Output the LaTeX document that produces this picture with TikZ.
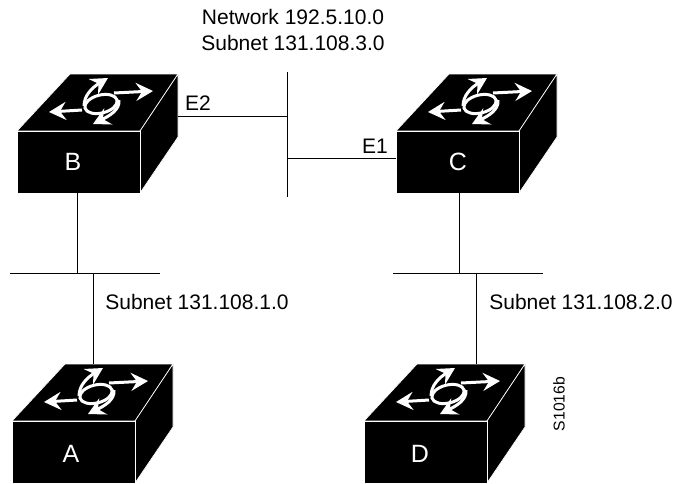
\documentclass[tikz,border=0pt]{standalone}
\usepackage{fontspec}
\setmainfont{Liberation Sans}
\usetikzlibrary{arrows.meta}
\tikzset{
  lbl/.style={font=\fontsize{21}{26}\selectfont, align=center, inner sep=0},
  boxlbl/.style={font=\fontsize{25}{25}\selectfont, text=white, inner sep=0},
  net/.style={draw, line width=1pt},
  face/.style={fill=black, draw=white, line width=0.7pt},
  icon/.style={draw=white, line width=3pt},
  iconarrow/.style={icon, -{Stealth[length=17pt, width=18pt, inset=6pt, fill=white]}},
  switchbox/.pic={
    % top and side faces, then the front
    \path[face] (0, 0) -- (53, -57) -- (161, -57) -- (123, 0) -- cycle;
    \path[face] (123, 0) -- (161, -57) -- (161, 6) -- (123, 62) -- cycle;
    \node[face, minimum width=123pt, minimum height=62pt, inner sep=0] (-front) at (61.5, 31) {};
    \coordinate (-top) at (76, -57);
    \coordinate (-east) at (161, -15);
    \coordinate (-west) at (0, 27.5);
    % arrows on the top face
    \draw[icon, rotate around={14:(84, -27)}] (84, -27) ellipse (16.5pt and 9pt);
    \draw[iconarrow] (65, -21) -- (32, -19);
    \draw[iconarrow] (97, -38) -- (136, -40);
    \draw[iconarrow] (102, -31) .. controls (103, -21) and (92, -15) .. (76, -7);
    \draw[iconarrow] (67, -25) .. controls (67, -36) and (76, -44) .. (91, -53);
  }
}
\begin{document}
\begin{tikzpicture}[x=1pt, y=-1pt]
  \useasboundingbox (0, 0) rectangle (674, 483);
  \pic (b) at (17, 131) {switchbox};
  \pic (c) at (396, 131) {switchbox};
  \pic (a) at (12, 421) {switchbox};
  \pic (d) at (364, 421) {switchbox};
  \node[boxlbl] (blbl) at (73, 162) {B};
  \node[boxlbl] (clbl) at (458, 162) {C};
  \node[boxlbl] (albl) at (71, 454) {A};
  \node[boxlbl] (dlbl) at (420, 454) {D};

  \coordinate (north) at (287, 72);
  \coordinate (south) at (287, 197);
  \coordinate (leftw) at (10, 273);
  \coordinate (lefte) at (160, 273);
  \coordinate (rightw) at (393, 273);
  \coordinate (righte) at (543, 273);
  \coordinate (bdrop) at (77, 273);
  \coordinate (cdrop) at (459.5, 273);
  \coordinate (adrop) at (93, 273);
  \coordinate (ddrop) at (476, 273);

  \path [net] (north) -- (south);
  \path [net] (leftw) -- (lefte);
  \path [net] (rightw) -- (righte);
  \path [net] (b-east) -- (b-east -| north);
  \path [net] (c-west) -- (c-west -| north);
  \path [net] (bdrop) -- (bdrop |- b-front.south);
  \path [net] (cdrop) -- (cdrop |- c-front.south);
  \path [net] (adrop) -- (adrop |- a-top);
  \path [net] (ddrop) -- (ddrop |- d-top);

  \node[lbl] (title) at (293, 30) {Network 192.5.10.0\\Subnet 131.108.3.0};
  \node[lbl] (e2) at (198, 103) {E2};
  \node[lbl] (e1) at (375, 146) {E1};
  \node[lbl] (subl) at (197, 302) {Subnet 131.108.1.0};
  \node[lbl] (subr) at (581, 302) {Subnet 131.108.2.0};
  \node[rotate=90, inner sep=0, font=\fontsize{15.7}{18}\selectfont] (code) at (559, 404) {S1016b};
\end{tikzpicture}
\end{document}
